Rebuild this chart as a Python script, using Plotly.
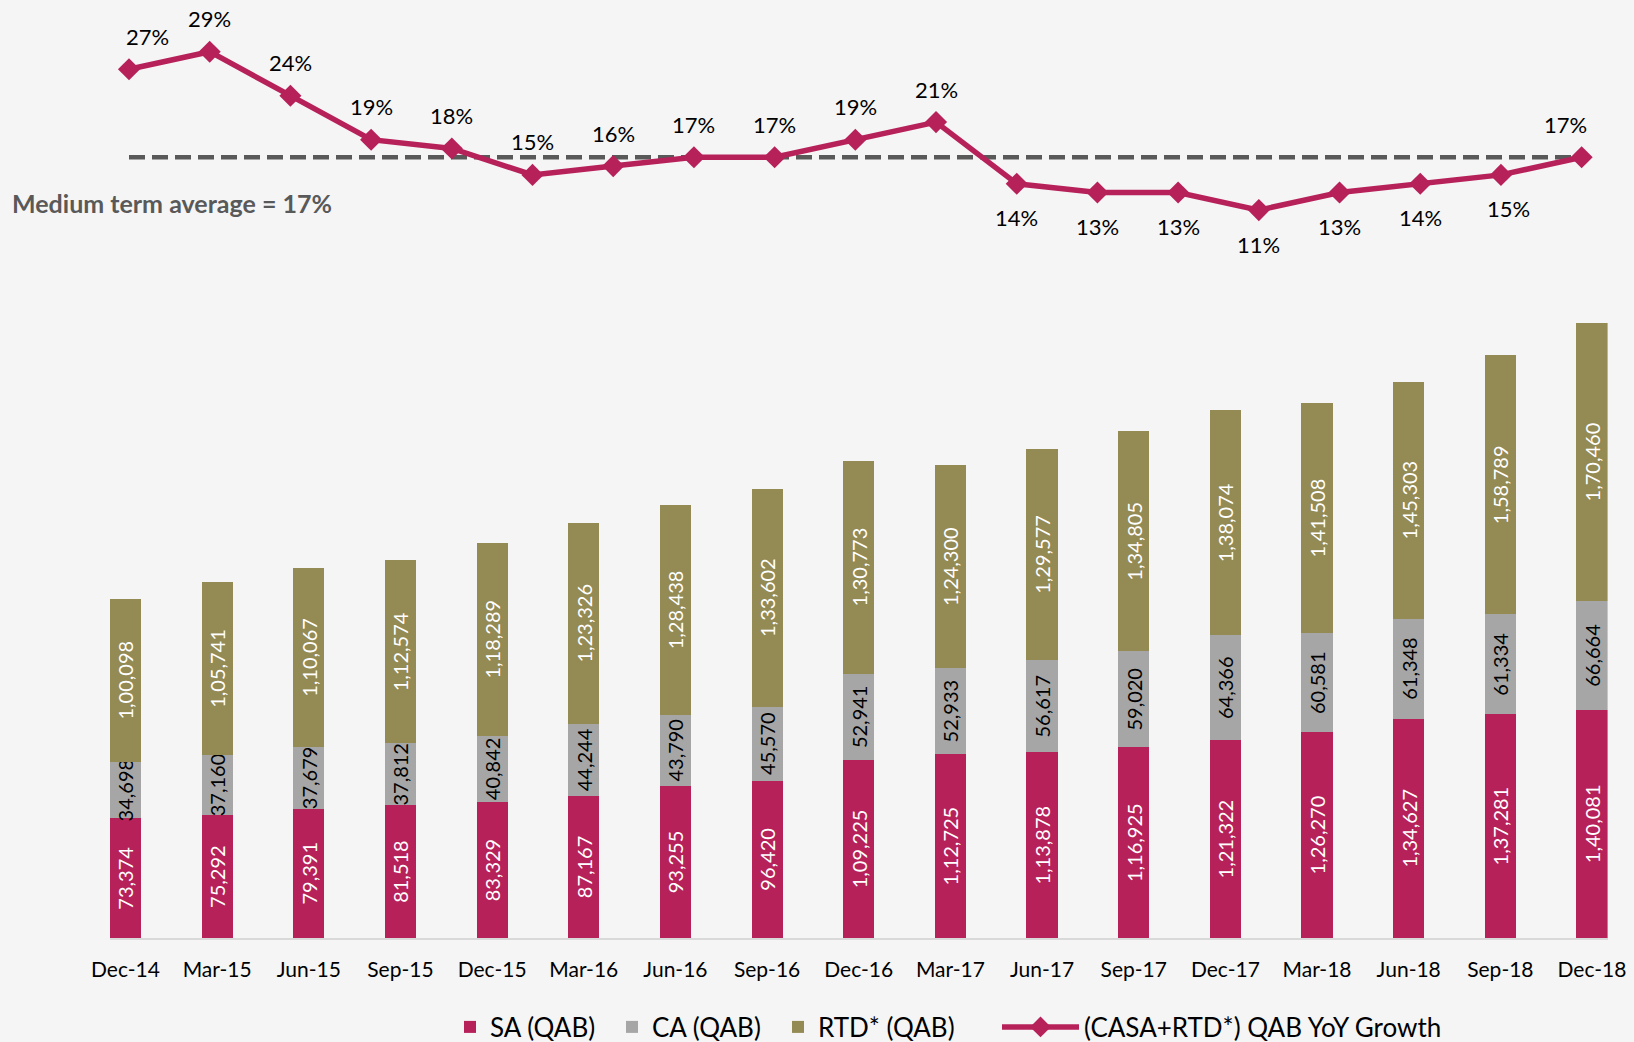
import plotly.graph_objects as go

# ---------------- data ----------------
quarters = ["Dec-14", "Mar-15", "Jun-15", "Sep-15", "Dec-15", "Mar-16", "Jun-16", "Sep-16",
            "Dec-16", "Mar-17", "Jun-17", "Sep-17", "Dec-17", "Mar-18", "Jun-18", "Sep-18", "Dec-18"]
sa = [73374, 75292, 79391, 81518, 83329, 87167, 93255, 96420, 109225, 112725, 113878,
      116925, 121322, 126270, 134627, 137281, 140081]
ca = [34698, 37160, 37679, 37812, 40842, 44244, 43790, 45570, 52941, 52933, 56617,
      59020, 64366, 60581, 61348, 61334, 66664]
rtd = [100098, 105741, 110067, 112574, 118289, 123326, 128438, 133602, 130773, 124300,
       129577, 134805, 138074, 141508, 145303, 158789, 170460]
growth = [27, 29, 24, 19, 18, 15, 16, 17, 17, 19, 21, 14, 13, 13, 11, 13, 14, 15, 17]
medium_term_avg = 17

# ---------------- style ----------------
FONT = "Lato"
C_SA = "#B7215A"
C_CA = "#A6A6A6"
C_RTD = "#948A54"
C_LINE = "#B7215A"
C_AVG = "#595959"
W, H = 1634, 1042

label_below = [False] * 11 + [True] * 7 + [False]
label_xshift = [18] + [0] * 16 + [8, -16]


def inr(n):
    s = str(int(n))
    if len(s) <= 3:
        return s
    last3, rest = s[-3:], s[:-3]
    groups = []
    while len(rest) > 2:
        groups.insert(0, rest[-2:])
        rest = rest[:-2]
    if rest:
        groups.insert(0, rest)
    return ",".join(groups) + "," + last3


fig = go.Figure()


def bar(name, vals, color, txtcolor, legend_id):
    fig.add_trace(go.Bar(
        x=quarters, y=vals, name=name, marker=dict(color=color, line=dict(width=0)),
        text=[inr(v) for v in vals], textposition="inside", textangle=-90,
        insidetextanchor="middle", constraintext="none",
        textfont=dict(family=FONT, size=20, color=txtcolor),
        xaxis="x", yaxis="y", legend=legend_id, hoverinfo="skip",
    ))


bar("SA (QAB)", sa, C_SA, "white", "legend")
bar("CA (QAB)", ca, C_CA, "black", "legend3")
bar("RTD* (QAB)", rtd, C_RTD, "white", "legend4")

gx = list(range(len(growth)))
fig.add_trace(go.Scatter(
    x=[gx[0], gx[-1]], y=[medium_term_avg, medium_term_avg], mode="lines",
    line=dict(color=C_AVG, width=4.5, dash="16px,7px"),
    xaxis="x2", yaxis="y2", showlegend=False, hoverinfo="skip", cliponaxis=False,
))
fig.add_trace(go.Scatter(
    x=gx, y=growth, mode="lines+markers", name="(CASA+RTD*) QAB YoY Growth",
    line=dict(color=C_LINE, width=5.5),
    marker=dict(symbol="diamond", size=17, color=C_LINE),
    xaxis="x2", yaxis="y2", legend="legend2", cliponaxis=False, hoverinfo="skip",
))

annotations = []
for i, v in enumerate(growth):
    annotations.append(dict(
        x=gx[i], y=v, xref="x2", yref="y2", text=f"{v}%", showarrow=False,
        yshift=-34 if label_below[i] else 33, xshift=label_xshift[i],
        font=dict(family=FONT, size=22, color="black"),
    ))
annotations.append(dict(
    x=10 / W, y=1 - 203 / H, xref="paper", yref="paper", xanchor="left", yanchor="middle",
    text=f"<b>Medium term average = {medium_term_avg}%</b>", showarrow=False,
    font=dict(family=FONT, size=25, color=C_AVG),
))

LEG_Y = 1 - 1027 / H


def leg(xpx, **kw):
    d = dict(orientation="h", x=xpx / W, xanchor="left", y=LEG_Y, yanchor="middle",
             font=dict(family=FONT, size=26, color="black"), bgcolor="rgba(0,0,0,0)")
    d.update(kw)
    return d


fig.update_layout(
    width=W, height=H, autosize=False,
    margin=dict(l=0, r=0, t=0, b=0, autoexpand=False),
    paper_bgcolor="#F5F5F5", plot_bgcolor="rgba(0,0,0,0)",
    barmode="stack", bargap=0.66,
    font=dict(family=FONT, color="black"),
    xaxis=dict(domain=[109.9 / W, 1607.6 / W], range=[-0.17, 16.17], type="category",
               showline=True, linecolor="#D9D9D9", linewidth=2, showgrid=False,
               zeroline=False, ticks="", ticklabelstandoff=12, automargin=False,
               tickfont=dict(family=FONT, size=21, color="black"), anchor="y"),
    yaxis=dict(domain=[1 - 938 / H, 1 - 300 / H], range=[0, 391400], visible=False,
               anchor="x", automargin=False),
    xaxis2=dict(domain=[88.65 / W, 1622 / W], range=[-0.5, 18.5], visible=False,
                anchor="y2", automargin=False),
    yaxis2=dict(domain=[1 - 300 / H, 1], range=[0.784, 34.875], visible=False,
                anchor="x2", automargin=False),
    legend=leg(450),
    legend3=leg(612),
    legend4=leg(778),
    legend2=leg(997, itemwidth=77),
    annotations=annotations,
    showlegend=True,
)

fig.write_html("out.html", config={"displayModeBar": False},
               post_script="document.body.style.margin='0';")
